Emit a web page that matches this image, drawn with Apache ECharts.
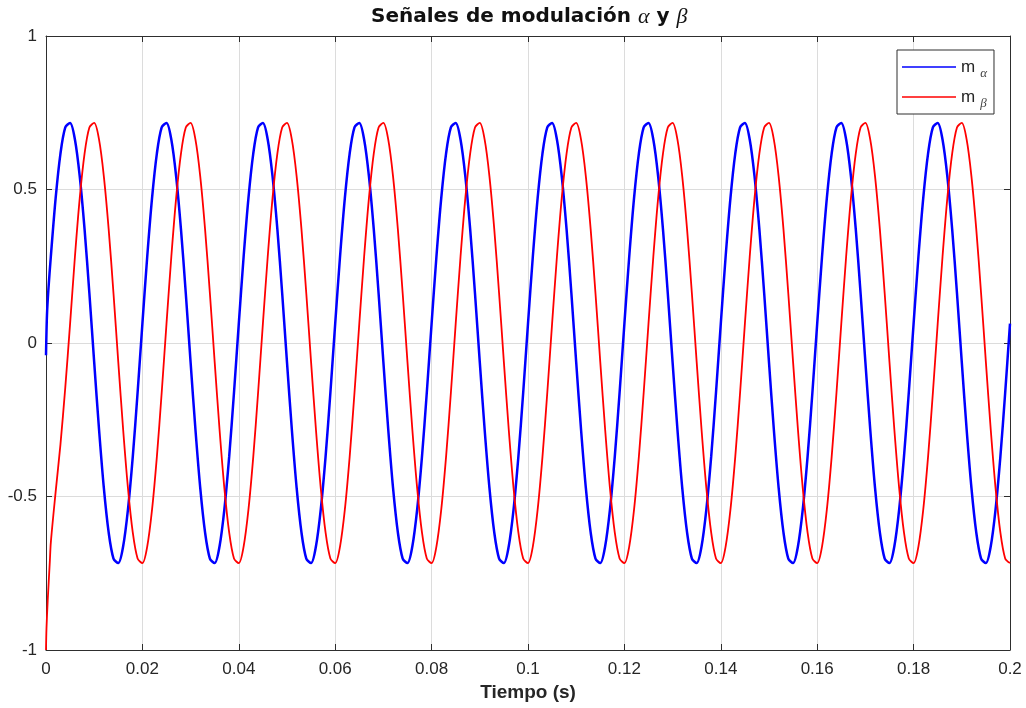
<!DOCTYPE html>
<html>
<head>
<meta charset="utf-8">
<script src="https://cdn.jsdelivr.net/npm/echarts@6/dist/echarts.min.js"></script>
<style>
  html, body { margin: 0; padding: 0; background: #ffffff; }
  #chart { width: 1026px; height: 708px; }
</style>
</head>
<body>
<div id="chart"></div>
<script>
// Modulation signals m_alpha / m_beta sampled every millisecond (50 Hz, 10 cycles)
const sampleStep = 0.001;          // seconds between samples
const xLimits = [0, 0.2];
const xTickStep = 0.02;
const yLimits = [-1, 1];
const yTickStep = 0.5;
const seriesNames = ['mα', 'mβ'];

// start-up transients, finer time resolution: [t, value]
const alphaHead = [[0, -0.04], [0.0002, 0.09], [0.0005, 0.175]];
const betaHead = [[0, -1], [0.0001, -0.93], [0.00035, -0.84], [0.0008, -0.71]];

// values at t = 0, 1 ms, 2 ms, ... 200 ms
const alphaValues = [
  -0.04, 0.281, 0.472, 0.617, 0.702, 0.717, 0.663, 0.543, 0.371, 0.162, -0.063, -0.281, -0.472, -0.617, -0.702, -0.717, -0.663, -0.543, -0.371, -0.162,
  0.063, 0.281, 0.472, 0.617, 0.702, 0.717, 0.663, 0.543, 0.371, 0.162, -0.063, -0.281, -0.472, -0.617, -0.702, -0.717, -0.663, -0.543, -0.371, -0.162,
  0.063, 0.281, 0.472, 0.617, 0.702, 0.717, 0.663, 0.543, 0.371, 0.162, -0.063, -0.281, -0.472, -0.617, -0.702, -0.717, -0.663, -0.543, -0.371, -0.162,
  0.063, 0.281, 0.472, 0.617, 0.702, 0.717, 0.663, 0.543, 0.371, 0.162, -0.063, -0.281, -0.472, -0.617, -0.702, -0.717, -0.663, -0.543, -0.371, -0.162,
  0.063, 0.281, 0.472, 0.617, 0.702, 0.717, 0.663, 0.543, 0.371, 0.162, -0.063, -0.281, -0.472, -0.617, -0.702, -0.717, -0.663, -0.543, -0.371, -0.162,
  0.063, 0.281, 0.472, 0.617, 0.702, 0.717, 0.663, 0.543, 0.371, 0.162, -0.063, -0.281, -0.472, -0.617, -0.702, -0.717, -0.663, -0.543, -0.371, -0.162,
  0.063, 0.281, 0.472, 0.617, 0.702, 0.717, 0.663, 0.543, 0.371, 0.162, -0.063, -0.281, -0.472, -0.617, -0.702, -0.717, -0.663, -0.543, -0.371, -0.162,
  0.063, 0.281, 0.472, 0.617, 0.702, 0.717, 0.663, 0.543, 0.371, 0.162, -0.063, -0.281, -0.472, -0.617, -0.702, -0.717, -0.663, -0.543, -0.371, -0.162,
  0.063, 0.281, 0.472, 0.617, 0.702, 0.717, 0.663, 0.543, 0.371, 0.162, -0.063, -0.281, -0.472, -0.617, -0.702, -0.717, -0.663, -0.543, -0.371, -0.162,
  0.063, 0.281, 0.472, 0.617, 0.702, 0.717, 0.663, 0.543, 0.371, 0.162, -0.063, -0.281, -0.472, -0.617, -0.702, -0.717, -0.663, -0.543, -0.371, -0.162,
  0.063
];
const betaValues = [
  -1, -0.65, -0.485, -0.33, -0.145, 0.063, 0.281, 0.472, 0.617, 0.702, 0.717, 0.663, 0.543, 0.371, 0.162, -0.063, -0.281, -0.472, -0.617, -0.702,
  -0.717, -0.663, -0.543, -0.371, -0.162, 0.063, 0.281, 0.472, 0.617, 0.702, 0.717, 0.663, 0.543, 0.371, 0.162, -0.063, -0.281, -0.472, -0.617, -0.702,
  -0.717, -0.663, -0.543, -0.371, -0.162, 0.063, 0.281, 0.472, 0.617, 0.702, 0.717, 0.663, 0.543, 0.371, 0.162, -0.063, -0.281, -0.472, -0.617, -0.702,
  -0.717, -0.663, -0.543, -0.371, -0.162, 0.063, 0.281, 0.472, 0.617, 0.702, 0.717, 0.663, 0.543, 0.371, 0.162, -0.063, -0.281, -0.472, -0.617, -0.702,
  -0.717, -0.663, -0.543, -0.371, -0.162, 0.063, 0.281, 0.472, 0.617, 0.702, 0.717, 0.663, 0.543, 0.371, 0.162, -0.063, -0.281, -0.472, -0.617, -0.702,
  -0.717, -0.663, -0.543, -0.371, -0.162, 0.063, 0.281, 0.472, 0.617, 0.702, 0.717, 0.663, 0.543, 0.371, 0.162, -0.063, -0.281, -0.472, -0.617, -0.702,
  -0.717, -0.663, -0.543, -0.371, -0.162, 0.063, 0.281, 0.472, 0.617, 0.702, 0.717, 0.663, 0.543, 0.371, 0.162, -0.063, -0.281, -0.472, -0.617, -0.702,
  -0.717, -0.663, -0.543, -0.371, -0.162, 0.063, 0.281, 0.472, 0.617, 0.702, 0.717, 0.663, 0.543, 0.371, 0.162, -0.063, -0.281, -0.472, -0.617, -0.702,
  -0.717, -0.663, -0.543, -0.371, -0.162, 0.063, 0.281, 0.472, 0.617, 0.702, 0.717, 0.663, 0.543, 0.371, 0.162, -0.063, -0.281, -0.472, -0.617, -0.702,
  -0.717, -0.663, -0.543, -0.371, -0.162, 0.063, 0.281, 0.472, 0.617, 0.702, 0.717, 0.663, 0.543, 0.371, 0.162, -0.063, -0.281, -0.472, -0.617, -0.702,
  -0.717
];

// head points replace the first sample, the rest sit on the 1 ms grid
function toPairs(head, values) {
  return head.concat(values.slice(1).map((v, i) => [(i + 1) * sampleStep, v]));
}

const AXIS = '#2e2e2e';
const TEXT = '#262626';
const GRID = '#dcdcdc';

function boxAxis(extra) {
  return Object.assign({
    type: 'value',
    axisLine: { show: true, onZero: false, lineStyle: { color: AXIS, width: 1 } },
    axisTick: { show: true, inside: true, length: 6, lineStyle: { color: AXIS, width: 1 } },
    axisLabel: { show: false },
    splitLine: { show: false }
  }, extra);
}

const tickFont = { color: TEXT, fontSize: 17, fontFamily: 'Liberation Sans, Arial, sans-serif' };

const chart = echarts.init(document.getElementById('chart'), null, { renderer: 'canvas' });
chart.setOption({
  animation: false,
  backgroundColor: '#ffffff',
  title: {
    text: '{t|Señales de modulación }{g|α}{t| y }{g|β}',
    left: 371,
    top: 6,
    padding: 0,
    textStyle: {
      rich: {
        t: { fontFamily: 'DejaVu Sans', fontWeight: 'bold', fontSize: 20, color: '#111111' },
        g: { fontFamily: 'Liberation Serif', fontStyle: 'italic', fontWeight: 'normal', fontSize: 22, color: '#111111' }
      }
    }
  },
  legend: {
    data: seriesNames,
    orient: 'vertical',
    left: 897,
    top: 50,
    padding: [4, 7, 4, 5],
    itemGap: 4,
    itemWidth: 54,
    itemHeight: 1.6,
    icon: 'rect',
    backgroundColor: '#ffffff',
    borderColor: AXIS,
    borderWidth: 1,
    borderRadius: 0,
    formatter: name => name === 'mα' ? '{m|m}{s|α}' : '{m|m}{s|β}',
    textStyle: {
      rich: {
        m: { fontFamily: 'Liberation Sans, Arial, sans-serif', fontSize: 17, color: TEXT, lineHeight: 24 },
        s: { fontFamily: 'Liberation Serif', fontStyle: 'italic', fontSize: 13, color: '#444444', lineHeight: 12, padding: [13, 0, 0, 5] }
      }
    }
  },
  grid: { left: 46, right: 16, top: 36, bottom: 58, containLabel: false },
  xAxis: [
    boxAxis({
      min: xLimits[0], max: xLimits[1], interval: xTickStep, position: 'bottom',
      axisLabel: Object.assign({ show: true, margin: 11 }, tickFont),
      splitLine: { show: true, lineStyle: { color: GRID, width: 1 } },
      name: 'Tiempo (s)',
      nameLocation: 'middle',
      nameGap: 31,
      nameTextStyle: { color: TEXT, fontSize: 19, fontWeight: 'bold', fontFamily: 'Liberation Sans, Arial, sans-serif' }
    }),
    boxAxis({ min: xLimits[0], max: xLimits[1], interval: xTickStep, position: 'top' })
  ],
  yAxis: [
    boxAxis({
      min: yLimits[0], max: yLimits[1], interval: yTickStep, position: 'left',
      axisLabel: Object.assign({ show: true, margin: 9 }, tickFont),
      splitLine: { show: true, lineStyle: { color: GRID, width: 1 } }
    }),
    boxAxis({ min: yLimits[0], max: yLimits[1], interval: yTickStep, position: 'right' })
  ],
  series: [
    {
      name: seriesNames[0], type: 'line', xAxisIndex: 0, yAxisIndex: 0,
      data: toPairs(alphaHead, alphaValues),
      showSymbol: false, symbol: 'none', smooth: 0.3,
      color: '#0000ff',
      lineStyle: { color: '#0000ff', width: 2.5 }
    },
    {
      name: seriesNames[1], type: 'line', xAxisIndex: 0, yAxisIndex: 0,
      data: toPairs(betaHead, betaValues),
      showSymbol: false, symbol: 'none', smooth: 0.3,
      color: '#ff0000',
      lineStyle: { color: '#ff0000', width: 1.8 }
    }
  ]
});
</script>
</body>
</html>
